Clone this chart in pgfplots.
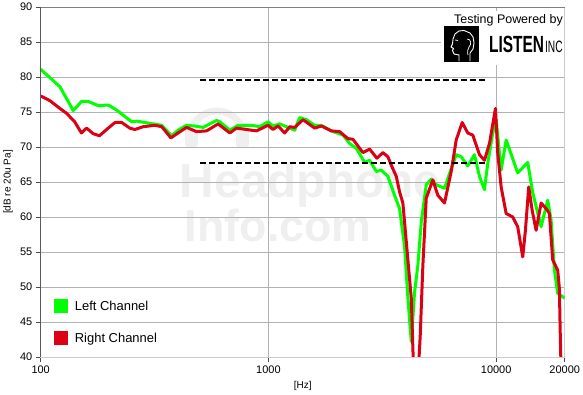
\documentclass[border=0pt]{standalone}
\usepackage{fontspec}
\setmainfont{Liberation Sans}
\usepackage{pgfplots}
\pgfplotsset{compat=1.18}
\definecolor{lgreen}{RGB}{0,255,0}
\definecolor{lred}{RGB}{220,0,20}
\definecolor{wm}{RGB}{239,239,239}
\definecolor{gridc}{RGB}{178,178,178}
\begin{document}
\begin{tikzpicture}
% watermark (behind the axis)
\draw[wm, line width=7bp] (149.3bp,219bp) arc[start angle=180, end angle=0, radius=27bp];
\fill[wm, rounded corners=3bp] (144.3bp,210bp) rectangle (157.3bp,230bp);
\fill[wm, rounded corners=3bp] (195.3bp,210bp) rectangle (208.3bp,230bp);
\node[anchor=base west, text=wm, inner sep=0pt, font=\fontsize{48}{48}\selectfont\bfseries] at (139bp,159bp) {Headphone};
\node[anchor=base west, text=wm, inner sep=0pt, font=\fontsize{45}{45}\selectfont\bfseries] at (144bp,115bp) {Info.com};
\begin{axis}[
  at={(0,0)}, anchor=south west,
  scale only axis, width=524bp, height=350bp,
  xmode=log, xmin=100, xmax=20000, ymin=40, ymax=90,
  xtick={100,1000,10000,20000}, xticklabels={100,1000,10000,20000},
  xminorticks=false,
  ytick={40,45,50,55,60,65,70,75,80,85,90},
  yticklabels={40,45,50,55,60,65,70,75,80,85,90},
  xtick pos=left, ytick pos=left,
  tick align=outside, major tick length=5bp,
  tick style={black!70, line width=0.8bp},
  grid=major, grid style={gridc, line width=0.8bp},
  axis line style={black!20, line width=0.8bp},
  ticklabel style={font=\fontsize{11}{13}\selectfont},
  xlabel={[Hz]}, ylabel={[dB re 20u Pa]},
  label style={font=\fontsize{11}{13}\selectfont},
  every axis x label/.style={at={(axis description cs:0.5,-0.083)}, anchor=center},
  every axis y label/.style={at={(axis description cs:-0.0624,0.5)}, rotate=90, anchor=center},
  legend style={draw=none, fill=none, inner sep=0pt, row sep=18bp,
    at={(axis description cs:0.0248,0.166)}, anchor=north west,
    font=\fontsize{13}{15}\selectfont,
    nodes={inner sep=0pt},
    /tikz/every odd column/.append style={column sep=7bp}},
  legend cell align=left,
  legend image code/.code={\fill[#1, draw=none] (0bp,-7bp) rectangle (14bp,7bp);},
  clip=true,
]
\addplot[lgreen, line width=3bp, line join=round] coordinates {
(100,81.1) (121.5,78.6) (139,75.2) (151,76.5) (162,76.5) (179,75.9) (198,76.0) (215,75.3) (251,73.6) (264,73.7) (312,73.3) (340,73.1) (376,71.6) (401,72.4) (437,73.1) (475,73.0) (517,72.8) (592,73.8) (612,73.6) (677,72.4) (736,73.1) (842,73.1) (916,72.9) (996,73.6) (1047,73.0) (1121,73.3) (1179,73.0) (1304,72.4) (1372,74.2) (1468,73.9) (1596,73.1) (1708,73.1) (1890,72.3) (2124,71.7) (2273,70.5) (2432,69.8) (2645,67.8) (2782,68.1) (2977,66.5) (3131,66.7) (3347,65.8) (3580,63.1) (3766,61.2) (3961,55.8) (4095,48.5) (4239,42.2) (4383,49.3) (4531,53.1) (4690,59.3) (4932,64.6) (5187,65.4) (5456,64.6) (5933,64.1) (6241,66.2) (6677,68.9) (7023,68.6) (7507,67.3) (8031,68.9) (8449,65.8) (8884,63.9) (9188,67.7) (9662,72.0) (10000,73.9) (10517,66.7) (11063,71.0) (12436,66.3) (13758,67.8) (14471,63.5) (15753,58.6) (16840,62.4) (17427,59.6) (18020,52.4) (18631,49.1) (20000,48.4)
};
\addlegendentry{Left Channel}
\addplot[lred, line width=3bp, line join=round] coordinates {
(100,77.3) (110,76.6) (121.5,75.5) (130,74.8) (141,73.6) (151,72.0) (159,72.7) (170,71.9) (181,71.6) (198,72.7) (212,73.5) (227,73.5) (246,72.7) (259,72.5) (282,72.9) (317,73.1) (340,72.9) (373,71.3) (401,72.0) (437,72.8) (483,72.2) (535,72.3) (601,73.3) (677,72.0) (724,72.7) (886,72.3) (996,73.1) (1047,72.5) (1102,73.0) (1179,72.0) (1240,72.9) (1304,72.8) (1418,73.9) (1596,72.7) (1708,73.0) (1890,72.3) (2054,72.2) (2234,71.2) (2350,71.1) (2600,69.2) (2782,69.7) (2995,68.4) (3182,69.2) (3347,68.6) (3463,67.4) (3643,65.8) (3766,63.6) (3894,62.0) (4030,56.5) (4239,48.4) (4330,39) (4383,38.5) (4560,38.5) (4640,43) (4766,53.1) (4932,62.7) (5272,65.3) (5545,63.1) (5933,62.0) (6348,66.5) (6677,71.0) (7094,73.5) (7507,72.0) (7896,71.7) (8449,68.9) (8884,68.1) (9346,70.5) (9929,75.5) (10162,69.1) (10517,64.3) (11063,60.5) (11824,60.0) (12436,58.6) (13082,54.3) (13443,58.1) (13899,64.3) (14385,61.0) (14976,58.1) (15753,62.0) (16570,61.2) (17132,60.5) (17711,53.9) (18631,52.4) (18950,49.8) (19100,44) (19281,38)
};
\addlegendentry{Right Channel}
\addplot[black, line width=2bp, dash pattern=on 6bp off 3bp, forget plot] coordinates {(500,79.6) (9000,79.6)};
\addplot[black, line width=2bp, dash pattern=on 6bp off 3bp, forget plot] coordinates {(500,67.7) (9000,67.7)};
\end{axis}
% axis borders
\draw[black!65, line width=1bp] (0,0) -- (0,350bp);
\draw[black!50, line width=0.8bp] (0,350bp) -- (524bp,350bp);
% logo
\fill[white] (400bp,292bp) rectangle (523.5bp,346bp);
\node[anchor=base east, inner sep=0pt, font=\fontsize{12.5}{14}\selectfont] at (522.3bp,333bp) {Testing Powered by};
\fill[black] (403.3bp,295bp) rectangle (438.3bp,331bp);
\begin{scope}[shift={(403.3bp,331bp)}, x=1bp, y=-1bp]
\draw[white, line width=0.9bp, line join=round, line cap=round]
  (15,35) -- (15,29) -- (10,28) -- (8.5,24.5) -- (9.5,22.5) -- (7,21) -- (8.5,18) -- (9,13) -- (11,8) -- (15,5) -- (20,4.5) -- (26,7) -- (29,11) -- (30,17) -- (29,23) -- (26,27) -- (26,35);
\draw[white, line width=0.7bp] (23,13) .. controls (27,13) and (28,18) .. (25,21) .. controls (24,23) and (23,25) .. (24,29);
\draw[white, line width=0.7bp] (11,14) -- (14,14.5);
\end{scope}
\node[anchor=base west, inner sep=0pt, font=\fontsize{23.5}{24}\selectfont\bfseries, xscale=0.66] at (448.3bp,304bp) {LISTEN};
\node[anchor=base west, inner sep=0pt, font=\fontsize{16.5}{17}\selectfont, xscale=0.62] at (504.3bp,304bp) {INC};
\pgfresetboundingbox
\path (-40.7bp,-38bp) rectangle (542.3bp,357bp);
\end{tikzpicture}
\end{document}
